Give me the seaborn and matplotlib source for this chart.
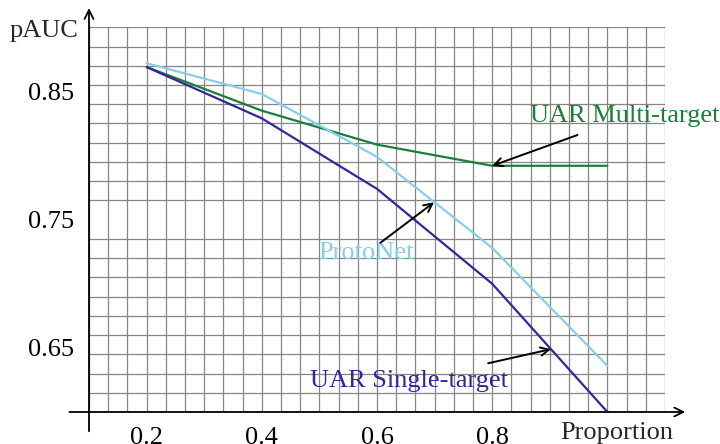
import matplotlib
matplotlib.use("Agg")
import matplotlib.pyplot as plt
import seaborn as sns
import pandas
import numpy
from matplotlib.ticker import FixedLocator

proportion = [0.2, 0.4, 0.6, 0.8, 1.0]
multi = [0.869, 0.835, 0.8085, 0.792, 0.792]
proto = [0.872, 0.848, 0.799, 0.728, 0.636]
single = [0.869, 0.829, 0.774, 0.700, 0.600]
names = ["UAR Multi-target", "ProtoNet", "UAR Single-target"]
colors = ["#1b7f3a", "#87ceeb", "#35259a"]
xticks = [0.2, 0.4, 0.6, 0.8]
yticks = [0.65, 0.75, 0.85]

df = pandas.DataFrame({
    "Proportion": proportion * 3,
    "pAUC": multi + proto + single,
    "model": [names[0]] * 5 + [names[1]] * 5 + [names[2]] * 5,
})

sns.set_style("white")
plt.rcParams["font.family"] = ["Liberation Serif", "DejaVu Serif"]

fig = plt.figure(figsize=(7.2, 4.44), dpi=100)
ax = fig.add_axes([89 / 720, (444 - 412) / 444, 576 / 720, (412 - 27.3) / 444])

sns.lineplot(data=df, x="Proportion", y="pAUC", hue="model", palette=colors,
             linewidth=1.6, legend=False, ax=ax, zorder=3)

ax.set_xlim(0.1, 1.1)
ax.set_ylim(0.6, 0.9)

# grid like a tikz grid, not aligned to the y ticks
ax.xaxis.set_major_locator(FixedLocator(xticks))
ax.yaxis.set_major_locator(FixedLocator(yticks))
ax.xaxis.set_minor_locator(FixedLocator(numpy.linspace(0.1, 1.1, 31)))
ax.yaxis.set_minor_locator(FixedLocator(numpy.linspace(0.6, 0.9, 21)))
ax.xaxis.remove_overlapping_locs = False
ax.grid(False, which="major")
ax.grid(True, which="minor", color="#858585", linewidth=0.9)
ax.set_xticklabels([str(t) for t in xticks])
ax.set_yticklabels([str(t) for t in yticks])
ax.tick_params(which="major", direction="inout", length=10, width=1.2,
               labelsize=19, colors="black")
ax.tick_params(axis="x", which="major", pad=6)
ax.tick_params(axis="y", which="major", pad=6)
ax.tick_params(which="minor", length=0)
for s in ax.spines.values():
    s.set_visible(False)

# axis lines with arrows
ax.annotate("", xy=(1.135, 0.6), xytext=(0.066, 0.6), annotation_clip=False,
            arrowprops=dict(arrowstyle="->", lw=1.3, color="black",
                            shrinkA=0, shrinkB=0, mutation_scale=16))
ax.annotate("", xy=(0.1, 0.915), xytext=(0.1, 0.585), annotation_clip=False,
            arrowprops=dict(arrowstyle="->", lw=1.3, color="black",
                            shrinkA=0, shrinkB=0, mutation_scale=16))
ax.text(0.082, 0.897, "pAUC", ha="right", va="center", fontsize=19)
ax.text(1.017, 0.5835, "Proportion", ha="center", va="center", fontsize=19,
        clip_on=False)

# labels and pointers
labels = [(1.03, 0.831), (0.58, 0.724), (0.655, 0.624)]
arrows = [((0.948, 0.816), (0.8, 0.792)),
          ((0.606, 0.732), (0.699, 0.7635)),
          ((0.793, 0.638), (0.902, 0.649))]
for name, c, pos, (tail, head) in zip(names, colors, labels, arrows):
    ax.text(pos[0], pos[1], name, color=c, fontsize=19, ha="center",
            va="center", clip_on=False, zorder=5)
    ax.annotate("", xy=head, xytext=tail, zorder=5,
                arrowprops=dict(arrowstyle="->", lw=1.4, color="black",
                                shrinkA=0, shrinkB=0, mutation_scale=15))

ax.set_xlabel("")
ax.set_ylabel("")
plt.savefig("out.png", dpi=100)
